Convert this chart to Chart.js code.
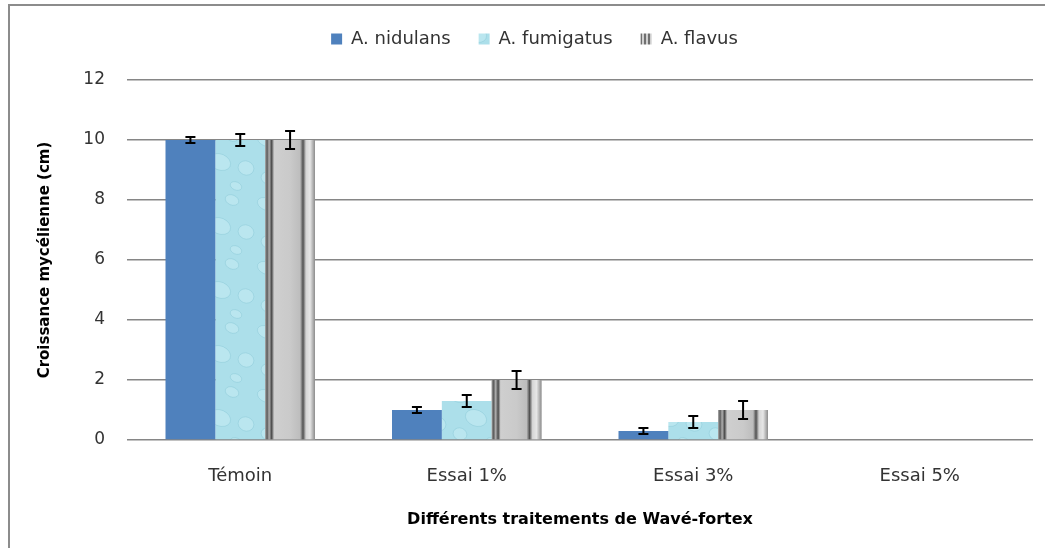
<!DOCTYPE html>
<html>
<head>
<meta charset="utf-8">
<script src="https://cdn.jsdelivr.net/npm/chart.js@4"></script>
<style>
  html, body { margin: 0; padding: 0; background: #fff; overflow: hidden; }
  #cadre { position: absolute; left: 8px; top: 4px; width: 1100px; height: 600px; border: 2px solid #8c8c8c; }
  #boite { position: absolute; left: 0; top: 0; width: 1045px; height: 548px; }
</style>
</head>
<body>
<div id="cadre"></div>
<div id="boite"><canvas id="grafico"></canvas></div>
<script>
const categorie = ['Témoin', 'Essai 1%', 'Essai 3%', 'Essai 5%'];
const nidulans = [10, 1.0, 0.3, 0];
const fumigatus = [10, 1.3, 0.6, 0];
const flavus = [10, 2.0, 1.0, 0];
const errNidulans = [0.1, 0.1, 0.1, 0];
const errFumigatus = [0.2, 0.2, 0.2, 0];
const errFlavus = [0.3, 0.3, 0.3, 0];
const errori = [errNidulans, errFumigatus, errFlavus];
const tickY = [0, 2, 4, 6, 8, 10, 12];

const FONT = '"DejaVu Sans", sans-serif';

// texture "eau" pour A. fumigatus
function textureEau() {
  const c = document.createElement('canvas');
  c.width = 64; c.height = 64;
  const g = c.getContext('2d');
  g.fillStyle = '#acdfea';
  g.fillRect(0, 0, 64, 64);
  const gocce = [[10, 12, 9, 6], [40, 8, 7, 5], [28, 34, 11, 8], [54, 40, 8, 7], [12, 50, 7, 6], [44, 58, 6, 4]];
  gocce.forEach(([x, y, rx, ry]) => {
    g.beginPath();
    g.ellipse(x, y, rx, ry, 0.4, 0, Math.PI * 2);
    g.fillStyle = 'rgba(205,240,247,0.45)';
    g.fill();
    g.strokeStyle = 'rgba(130,195,210,0.4)';
    g.lineWidth = 1;
    g.stroke();
  });
  return document.getElementById('grafico').getContext('2d').createPattern(c, 'repeat');
}

function righeGrigie() {
  const c = document.createElement('canvas');
  c.width = 4; c.height = 4;
  const g = c.getContext('2d');
  g.fillStyle = '#d0d0d0'; g.fillRect(0, 0, 4, 4);
  g.fillStyle = '#707070'; g.fillRect(0, 0, 2, 4);
  return document.getElementById('grafico').getContext('2d').createPattern(c, 'repeat');
}

const motivoEau = textureEau();
const motivoRighe = righeGrigie();

// plus d'espace sous la légende, légende un peu à droite
const pluginLegenda = {
  id: 'pluginLegenda',
  beforeInit(chart) {
    const fit = chart.legend.fit;
    chart.legend.fit = function () {
      fit.call(this);
      this.height += 22;
    };
  },
  afterLayout(chart) {
    chart.legend.left += 18;
    chart.legend.right += 18;
  }
};

// dégradé vertical à bandes + barres d'erreur
const pluginBarre = {
  id: 'pluginBarre',
  afterDatasetsDraw(chart) {
    const ctx = chart.ctx;
    const metaFl = chart.getDatasetMeta(2);
    metaFl.data.forEach(el => {
      const h = el.base - el.y;
      if (h <= 0) return;
      const x0 = el.x - el.width / 2;
      const gr = ctx.createLinearGradient(x0, 0, x0 + el.width, 0);
      gr.addColorStop(0.00, '#9a9a9a');
      gr.addColorStop(0.04, '#5c5c5c');
      gr.addColorStop(0.08, '#b0b0b0');
      gr.addColorStop(0.13, '#4a4a4a');
      gr.addColorStop(0.18, '#cfcfcf');
      gr.addColorStop(0.50, '#cacaca');
      gr.addColorStop(0.70, '#bdbdbd');
      gr.addColorStop(0.76, '#505050');
      gr.addColorStop(0.82, '#d6d6d6');
      gr.addColorStop(0.90, '#e6e6e6');
      gr.addColorStop(1.00, '#8c8c8c');
      ctx.save();
      ctx.fillStyle = gr;
      ctx.fillRect(x0, el.y, el.width, h);
      ctx.restore();
    });

    const y = chart.scales.y;
    ctx.save();
    ctx.strokeStyle = '#000';
    ctx.lineWidth = 2;
    chart.data.datasets.forEach((ds, i) => {
      const meta = chart.getDatasetMeta(i);
      meta.data.forEach((el, j) => {
        const e = errori[i][j];
        if (!e) return;
        const v = ds.data[j];
        const yt = y.getPixelForValue(v + e);
        const yb = y.getPixelForValue(v - e);
        ctx.beginPath();
        ctx.moveTo(el.x, yt); ctx.lineTo(el.x, yb);
        ctx.moveTo(el.x - 5, yt); ctx.lineTo(el.x + 5, yt);
        ctx.moveTo(el.x - 5, yb); ctx.lineTo(el.x + 5, yb);
        ctx.stroke();
      });
    });
    ctx.restore();
  }
};

new Chart(document.getElementById('grafico'), {
  type: 'bar',
  data: {
    labels: categorie,
    datasets: [
      { label: 'A. nidulans', data: nidulans, backgroundColor: '#4f81bd' },
      { label: 'A. fumigatus', data: fumigatus, backgroundColor: motivoEau },
      { label: 'A. flavus', data: flavus, backgroundColor: '#c8c8c8' }
    ]
  },
  options: {
    responsive: true,
    maintainAspectRatio: false,
    animation: false,
    layout: { padding: { left: 0, right: 12, top: 2, bottom: 0 } },
    datasets: { bar: { barPercentage: 1, categoryPercentage: 0.66 } },
    plugins: {
      tooltip: { enabled: false },
      legend: {
        position: 'top',
        labels: {
          font: { family: FONT, size: 18 },
          color: '#333',
          boxWidth: 11,
          boxHeight: 11,
          padding: 28,
          generateLabels(chart) {
            const fills = ['#4f81bd', motivoEau, motivoRighe];
            return chart.data.datasets.map((ds, i) => ({
              text: ds.label,
              fillStyle: fills[i],
              strokeStyle: 'rgba(0,0,0,0)',
              lineWidth: 0,
              datasetIndex: i,
              fontColor: '#333'
            }));
          }
        }
      }
    },
    scales: {
      x: {
        grid: { display: false },
        border: { display: false },
        ticks: { font: { family: FONT, size: 18 }, color: '#333', padding: 18 },
        title: {
          display: true,
          text: 'Différents traitements de Wavé-fortex',
          font: { family: FONT, size: 16, weight: 'bold' },
          color: '#000',
          padding: { top: 0, bottom: 19 }
        },
        afterFit(s) { s.height = 108; }
      },
      y: {
        min: 0,
        max: 12,
        afterBuildTicks(s) { s.ticks = tickY.map(v => ({ value: v })); },
        grid: { color: '#868686', lineWidth: 1.5, drawTicks: false },
        border: { display: false },
        ticks: { font: { family: FONT, size: 17 }, color: '#333', padding: 22 },
        title: {
          display: true,
          text: 'Croissance mycélienne (cm)',
          font: { family: FONT, size: 15, weight: 'bold' },
          color: '#000',
          padding: { top: 36, bottom: 0 }
        },
        afterFit(s) { s.width = 127; }
      }
    }
  },
  plugins: [pluginLegenda, pluginBarre]
});
</script>
</body>
</html>
